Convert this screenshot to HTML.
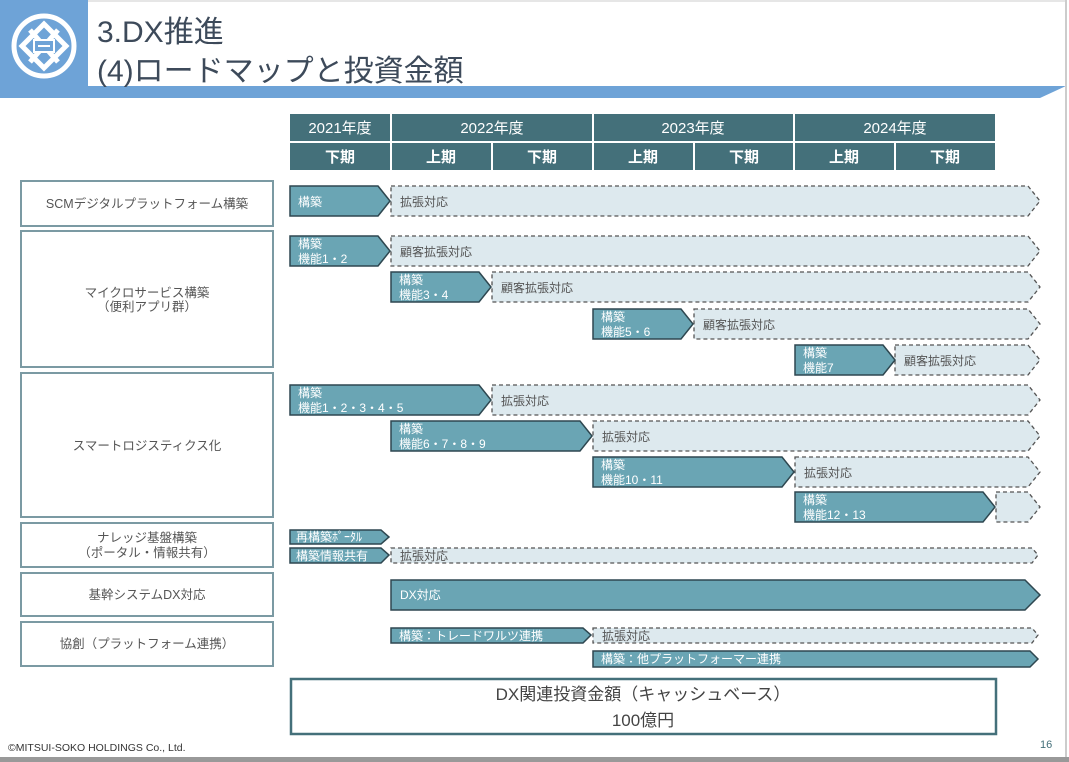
<!DOCTYPE html>
<html><head><meta charset="utf-8"><style>
html,body{margin:0;padding:0;background:#fff;}
svg{display:block;font-family:"Liberation Sans","Noto Sans CJK JP",sans-serif;}
.h{fill:#fff;font-size:15px;text-anchor:middle;}
.s{fill:#6aa5b4;stroke:#2e4750;stroke-width:1.5;}
.d{fill:#dde9ee;stroke:#555;stroke-width:1.3;stroke-dasharray:4 3;}
.st{fill:#fff;font-size:12px;}
.dt{fill:#555;font-size:12px;}
.lb{fill:none;stroke:#7b9aa3;stroke-width:2;}
.lt{fill:#555;font-size:12.5px;text-anchor:middle;}
</style></head><body>
<svg width="1069" height="762" viewBox="0 0 1069 762">
<rect x="0" y="0" width="88" height="98" fill="#6ea3d7"/>
<polygon points="0,86 1066,86 1040,98 0,98" fill="#6ea3d7"/>
<rect x="88" y="0" width="978" height="86" fill="#fff"/>
<line x1="88" y1="1" x2="1066" y2="1" stroke="#ccc"/>
<circle cx="44" cy="46" r="30" fill="none" stroke="#fff" stroke-width="5"/>
<g stroke="#fff" stroke-width="5" fill="none">
<polygon points="44,24 66,46 44,68 22,46"/>
<line x1="30" y1="30" x2="58" y2="62"/><line x1="58" y1="30" x2="30" y2="62"/>
</g>
<rect x="34" y="40" width="20" height="12" fill="#6ea3d7" stroke="#fff" stroke-width="2"/>
<line x1="38" y1="46" x2="50" y2="46" stroke="#fff" stroke-width="2"/>
<text x="97" y="42" font-size="30" fill="#3d4a5a">3.DX推進</text>
<text x="97" y="81" font-size="30" fill="#3d4a5a">(4)ロードマップと投資金額</text>
<line x1="1066" y1="0" x2="1066" y2="762" stroke="#ccc" stroke-width="2"/>
<rect x="0" y="757" width="1069" height="5" fill="#999"/>

<g fill="#44707a">
<rect x="290" y="114" width="100" height="27"/><rect x="392" y="114" width="200" height="27"/>
<rect x="594" y="114" width="199" height="27"/><rect x="795" y="114" width="200" height="27"/>
<rect x="290" y="143" width="100" height="27"/><rect x="392" y="143" width="99" height="27"/>
<rect x="493" y="143" width="99" height="27"/><rect x="594" y="143" width="99" height="27"/>
<rect x="695" y="143" width="98" height="27"/><rect x="795" y="143" width="99" height="27"/>
<rect x="896" y="143" width="99" height="27"/>
</g>
<text class="h" x="340" y="133">2021年度</text><text class="h" x="492" y="133">2022年度</text>
<text class="h" x="693" y="133">2023年度</text><text class="h" x="895" y="133">2024年度</text>
<g font-weight="bold"><text class="h" x="340" y="162">下期</text><text class="h" x="441" y="162">上期</text>
<text class="h" x="542" y="162">下期</text><text class="h" x="643" y="162">上期</text>
<text class="h" x="744" y="162">下期</text><text class="h" x="844" y="162">上期</text>
<text class="h" x="945" y="162">下期</text></g>

<rect class="lb" x="21" y="181" width="252" height="45"/>
<rect class="lb" x="21" y="231" width="252" height="136"/>
<rect class="lb" x="21" y="373" width="252" height="144"/>
<rect class="lb" x="21" y="523" width="252" height="44"/>
<rect class="lb" x="21" y="573" width="252" height="43"/>
<rect class="lb" x="21" y="622" width="252" height="44"/>
<text class="lt" x="147" y="208">SCMデジタルプラットフォーム構築</text>
<text class="lt" x="147" y="297">マイクロサービス構築</text>
<text class="lt" x="147" y="311">（便利アプリ群）</text>
<text class="lt" x="147" y="450">スマートロジスティクス化</text>
<text class="lt" x="147" y="542">ナレッジ基盤構築</text>
<text class="lt" x="147" y="557">（ポータル・情報共有）</text>
<text class="lt" x="147" y="599">基幹システムDX対応</text>
<text class="lt" x="147" y="648">協創（プラットフォーム連携）</text>

<polygon class="d" points="391,186 1028,186 1040,201 1028,216 391,216"/>
<polygon class="s" points="290,186 378,186 390,201 378,216 290,216"/>
<text class="st" x="298" y="206">構築</text><text class="dt" x="400" y="206">拡張対応</text>
<polygon class="d" points="391,236 1028,236 1040,251 1028,266 391,266"/>
<polygon class="s" points="290,236 378,236 390,251 378,266 290,266"/>
<text class="st" x="298" y="248">構築</text><text class="st" x="298" y="263">機能1・2</text>
<text class="dt" x="400" y="256">顧客拡張対応</text>
<polygon class="d" points="492,272 1028,272 1040,287 1028,302 492,302"/>
<polygon class="s" points="391,272 479,272 491,287 479,302 391,302"/>
<text class="st" x="399" y="284">構築</text><text class="st" x="399" y="299">機能3・4</text>
<text class="dt" x="501" y="292">顧客拡張対応</text>
<polygon class="d" points="694,309 1028,309 1040,324 1028,339 694,339"/>
<polygon class="s" points="593,309 681,309 693,324 681,339 593,339"/>
<text class="st" x="601" y="321">構築</text><text class="st" x="601" y="336">機能5・6</text>
<text class="dt" x="703" y="329">顧客拡張対応</text>
<polygon class="d" points="895,345 1028,345 1040,360 1028,375 895,375"/>
<polygon class="s" points="795,345 883,345 895,360 883,375 795,375"/>
<text class="st" x="803" y="357">構築</text><text class="st" x="803" y="372">機能7</text>
<text class="dt" x="904" y="365">顧客拡張対応</text>
<polygon class="d" points="492,385 1028,385 1040,400 1028,415 492,415"/>
<polygon class="s" points="290,385 479,385 491,400 479,415 290,415"/>
<text class="st" x="298" y="397">構築</text><text class="st" x="298" y="412">機能1・2・3・4・5</text>
<text class="dt" x="501" y="405">拡張対応</text>
<polygon class="d" points="593,421 1028,421 1040,436 1028,451 593,451"/>
<polygon class="s" points="391,421 580,421 592,436 580,451 391,451"/>
<text class="st" x="399" y="433">構築</text><text class="st" x="399" y="448">機能6・7・8・9</text>
<text class="dt" x="602" y="441">拡張対応</text>
<polygon class="d" points="795,457 1028,457 1040,472 1028,487 795,487"/>
<polygon class="s" points="593,457 782,457 794,472 782,487 593,487"/>
<text class="st" x="601" y="469">構築</text><text class="st" x="601" y="484">機能10・11</text>
<text class="dt" x="804" y="477">拡張対応</text>
<polygon class="d" points="996,492 1028,492 1040,507 1028,522 996,522"/>
<polygon class="s" points="795,492 983,492 995,507 983,522 795,522"/>
<text class="st" x="803" y="504">構築</text><text class="st" x="803" y="519">機能12・13</text>
<polygon class="s" points="290,530 381,530 389,537 381,544 290,544"/>
<text class="st" x="296" y="541" font-size="10.5">再構築ﾎﾟｰﾀﾙ</text>
<polygon class="d" points="391,548 1032,548 1038,555 1032,563 391,563"/>
<polygon class="s" points="290,548 381,548 389,555 381,563 290,563"/>
<text class="st" x="296" y="560" font-size="11.5">構築情報共有</text>
<text class="dt" x="400" y="560">拡張対応</text>
<polygon class="s" points="391,580 1025,580 1040,595 1025,610 391,610"/>
<text class="st" x="400" y="599">DX対応</text>
<polygon class="d" points="593,628 1032,628 1038,635 1032,643 593,643"/>
<polygon class="s" points="391,628 583,628 591,635 583,643 391,643"/>
<text class="st" x="399" y="640" font-size="11.5">構築：トレードワルツ連携</text>
<text class="dt" x="602" y="640">拡張対応</text>
<polygon class="s" points="593,651 1030,651 1038,659 1030,667 593,667"/>
<text class="st" x="601" y="663" font-size="11.5">構築：他プラットフォーマー連携</text>

<rect x="291" y="679" width="705" height="55" fill="#fff" stroke="#44707a" stroke-width="2.5"/>
<text x="643" y="700" font-size="17" fill="#444" text-anchor="middle">DX関連投資金額（キャッシュベース）</text>
<text x="643" y="726" font-size="17" fill="#444" text-anchor="middle">100億円</text>

<text x="8" y="751" font-size="10.5" fill="#333">©MITSUI-SOKO HOLDINGS Co., Ltd.</text>
<text x="1040" y="748" font-size="11" fill="#44707a">16</text>
</svg>
</body></html>
